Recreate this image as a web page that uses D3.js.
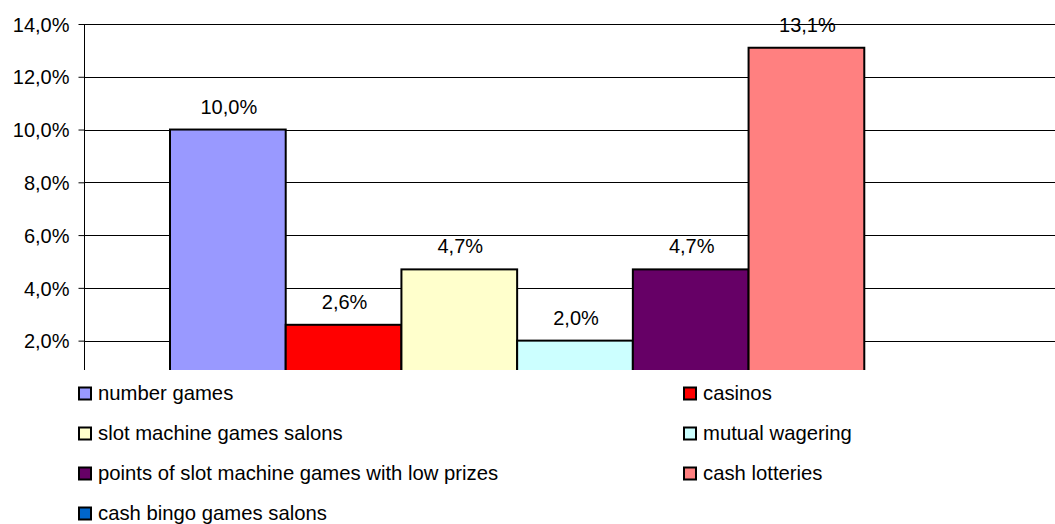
<!DOCTYPE html>
<html>
<head>
<meta charset="utf-8">
<script src="https://d3js.org/d3.v7.min.js"></script>
<style>
  html, body { margin: 0; padding: 0; background: #fff; }
  svg { display: block; }
  text { font-family: "Liberation Sans", Arial, sans-serif; fill: #000; }
</style>
</head>
<body>
<div id="chart"></div>
<script>
// Share of respondents by type of gambling venue
const categories = [
  "number games",
  "casinos",
  "slot machine games salons",
  "mutual wagering",
  "points of slot machine games with low prizes",
  "cash lotteries",
  "cash bingo games salons"
];
const values = [10.0, 2.6, 4.7, 2.0, 4.7, 13.1, null];
const colors = ["#9999FF", "#FF0000", "#FFFFCC", "#CCFFFF", "#660066", "#FF8080", "#0066CC"];
const yTicks = [2, 4, 6, 8, 10, 12, 14];

const W = 1055, H = 524;
const plotLeft = 84, plotRight = 1055, plotTop = 24, plotBottom = 370;

const fmt = d => d.toFixed(1).replace(".", ",") + "%";

const svg = d3.select("#chart").append("svg")
  .attr("width", W).attr("height", H);

const y = d3.scaleLinear().domain([0, 14]).range([393.4, plotTop]);
const x = d3.scaleBand().domain(categories).range([170, 980]).padding(0);

svg.append("defs").append("clipPath").attr("id", "plotClip")
  .append("rect").attr("x", 0).attr("y", 0).attr("width", W).attr("height", plotBottom);

const plot = svg.append("g").attr("clip-path", "url(#plotClip)");

// horizontal gridlines
plot.append("g").selectAll("line").data(yTicks).join("line")
  .attr("x1", plotLeft).attr("x2", plotRight)
  .attr("y1", d => Math.round(y(d)) + 0.5).attr("y2", d => Math.round(y(d)) + 0.5)
  .attr("stroke", "#000").attr("stroke-width", 1);

// bars
const data = categories.map((c, i) => ({ c, v: values[i], color: colors[i] }))
  .filter(d => d.v != null);

plot.append("g").selectAll("rect").data(data).join("rect")
  .attr("x", d => x(d.c))
  .attr("y", d => y(d.v))
  .attr("width", x.bandwidth())
  .attr("height", d => y(0) - y(d.v))
  .attr("fill", d => d.color)
  .attr("stroke", "#000")
  .attr("stroke-width", 2);

// value labels
plot.append("g").selectAll("text").data(data).join("text")
  .attr("x", d => x(d.c) + x.bandwidth() / 2 + 1)
  .attr("y", d => y(d.v) - 16)
  .attr("text-anchor", "middle")
  .style("font-size", "20px")
  .text(d => fmt(d.v));

// y axis
const axis = svg.append("g").attr("transform", `translate(${plotLeft + 0.5},0)`)
  .call(d3.axisLeft(y).tickValues(yTicks).tickFormat(fmt).tickSize(6).tickSizeOuter(0));
axis.select(".domain").remove();
axis.selectAll(".tick line").attr("stroke", "#000");
axis.selectAll(".tick text")
  .attr("x", -15)
  .attr("dy", "0.36em")
  .style("font-size", "20px")
  .style("font-family", "'Liberation Sans', Arial, sans-serif")
  .attr("fill", "#000");
svg.append("line")
  .attr("x1", plotLeft + 0.5).attr("x2", plotLeft + 0.5)
  .attr("y1", plotTop).attr("y2", plotBottom)
  .attr("stroke", "#000").attr("stroke-width", 1);

// legend
const legendCols = [78, 683];
const legendRow0 = 399.5, legendRowStep = 40;
const legend = svg.append("g").selectAll("g").data(categories).join("g")
  .attr("transform", (d, i) => `translate(${legendCols[i % 2]},${legendRow0 + Math.floor(i / 2) * legendRowStep})`);
legend.append("rect")
  .attr("x", 1).attr("y", -12)
  .attr("width", 12).attr("height", 12)
  .attr("fill", (d, i) => colors[i])
  .attr("stroke", "#000").attr("stroke-width", 2);
legend.append("text")
  .attr("x", 20).attr("y", 0)
  .style("font-size", "20.3px")
  .text(d => d);
</script>
</body>
</html>
